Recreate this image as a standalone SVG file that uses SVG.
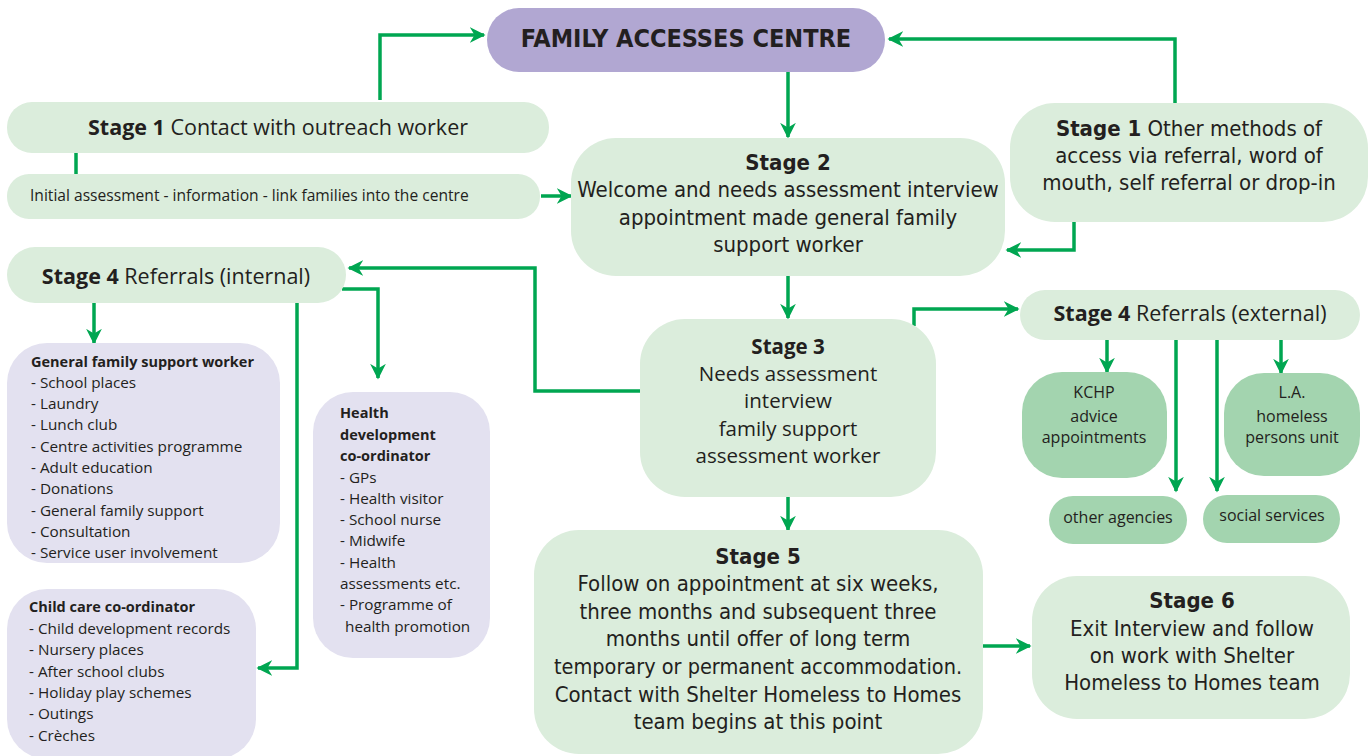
<svg xmlns="http://www.w3.org/2000/svg" width="1372" height="756" viewBox="0 0 1372 756">
<defs>
<style>
.lg{fill:#dbeddc}
.dg{fill:#a3d4af}
.pu{fill:#b1a7d2}
.lv{fill:#e3e1f0}
text{font-family:"Open Sans","Liberation Sans",Arial,sans-serif;fill:#231f20}
.c{text-anchor:middle}
.b{font-weight:bold}
.n{font-family:"Liberation Sans Narrow","DejaVu Sans Condensed","Liberation Sans",sans-serif}
.ln{fill:none;stroke:#00a651;stroke-width:3.5}
.s14{font-size:15.3px}
.t14{font-size:14.5px;font-weight:bold}
.s15{font-size:16px}
.s20{font-size:21.5px}
.s19{font-size:20.5px}
</style>
<marker id="ah" viewBox="0 0 10 10" refX="9" refY="5" markerWidth="4.5" markerHeight="4.5" orient="auto" markerUnits="strokeWidth">
<path d="M0,0 L10,5 L0,10 L3,5 Z" fill="#00a651"/>
</marker>
</defs>
<rect width="1372" height="756" fill="#ffffff"/>

<g id="connectors">
<path class="ln" d="M380,100 V35 H484" marker-end="url(#ah)"/>
<path class="ln" d="M76,153 V174"/>
<path class="ln" d="M541,196 H571" marker-end="url(#ah)"/>
<path class="ln" d="M788,72 V137" marker-end="url(#ah)"/>
<path class="ln" d="M1175,103 V39 H889" marker-end="url(#ah)"/>
<path class="ln" d="M1074,222 V250 H1007" marker-end="url(#ah)"/>
<path class="ln" d="M788,276 V318" marker-end="url(#ah)"/>
<path class="ln" d="M640,391 H535 V268 H349" marker-end="url(#ah)"/>
<path class="ln" d="M342,289 H378 V378" marker-end="url(#ah)"/>
<path class="ln" d="M94,303 V343" marker-end="url(#ah)"/>
<path class="ln" d="M297,303 V668 H258" marker-end="url(#ah)"/>
<path class="ln" d="M914,326 V309 H1018" marker-end="url(#ah)"/>
<path class="ln" d="M788,497 V530" marker-end="url(#ah)"/>
<path class="ln" d="M1107,340 V372" marker-end="url(#ah)"/>
<path class="ln" d="M1176,340 V491" marker-end="url(#ah)"/>
<path class="ln" d="M1217,340 V491" marker-end="url(#ah)"/>
<path class="ln" d="M1281,340 V373" marker-end="url(#ah)"/>
<path class="ln" d="M983,646 H1030" marker-end="url(#ah)"/>
</g>

<g id="fac">
<rect class="pu" x="487" y="8" width="398" height="64" rx="32"/>
<text class="c b n" x="686" y="47" font-size="25">FAMILY ACCESSES CENTRE</text>
</g>

<g id="stage1-outreach">
<rect class="lg" x="7" y="102" width="542" height="51" rx="25"/>
<text class="c s20" x="278" y="135"><tspan class="b">Stage 1</tspan> Contact with outreach worker</text>
</g>

<g id="initial-assessment">
<rect class="lg" x="7" y="174" width="533" height="45" rx="22"/>
<text x="30" y="201" font-size="15.6">Initial assessment - information - link families into the centre</text>
</g>

<g id="stage2">
<rect class="lg" x="571" y="138" width="434" height="138" rx="45"/>
<text class="c n" x="788" y="170" font-size="22"><tspan class="b">Stage 2</tspan></text>
<text class="c n" x="788" y="197" font-size="22">Welcome and needs assessment interview</text>
<text class="c n" x="788" y="225" font-size="22">appointment made general family</text>
<text class="c n" x="788" y="252" font-size="22">support worker</text>
</g>

<g id="stage1-other">
<rect class="lg" x="1010" y="103" width="358" height="119" rx="45"/>
<text class="c n" x="1189" y="136" font-size="22"><tspan class="b">Stage 1</tspan> Other methods of</text>
<text class="c n" x="1189" y="163" font-size="22">access via referral, word of</text>
<text class="c n" x="1189" y="190" font-size="22">mouth, self referral or drop-in</text>
</g>

<g id="stage4-internal">
<rect class="lg" x="7" y="247" width="339" height="56" rx="28"/>
<text class="c s20" x="176" y="284"><tspan class="b">Stage 4</tspan> Referrals (internal)</text>
</g>

<g id="general-family">
<rect class="lv" x="7" y="343" width="273" height="220" rx="40"/>
<text class="t14" x="31" y="367">General family support worker</text>
<text class="s14" x="31" y="388">- School places</text>
<text class="s14" x="31" y="409">- Laundry</text>
<text class="s14" x="31" y="430">- Lunch club</text>
<text class="s14" x="31" y="452">- Centre activities programme</text>
<text class="s14" x="31" y="473">- Adult education</text>
<text class="s14" x="31" y="494">- Donations</text>
<text class="s14" x="31" y="516">- General family support</text>
<text class="s14" x="31" y="537">- Consultation</text>
<text class="s14" x="31" y="558">- Service user involvement</text>
</g>

<g id="health">
<rect class="lv" x="313" y="392" width="177" height="266" rx="40"/>
<text class="t14" x="340" y="418">Health</text>
<text class="t14" x="340" y="440">development</text>
<text class="t14" x="340" y="461">co-ordinator</text>
<text class="s14" x="340" y="483">- GPs</text>
<text class="s14" x="340" y="504">- Health visitor</text>
<text class="s14" x="340" y="525">- School nurse</text>
<text class="s14" x="340" y="546">- Midwife</text>
<text class="s14" x="340" y="568">- Health</text>
<text class="s14" x="340" y="589">assessments etc.</text>
<text class="s14" x="340" y="610">- Programme of</text>
<text class="s14" x="345" y="632">health promotion</text>
</g>

<g id="childcare">
<rect class="lv" x="7" y="589" width="249" height="170" rx="40"/>
<text class="t14" x="29" y="612">Child care co-ordinator</text>
<text class="s14" x="29" y="634">- Child development records</text>
<text class="s14" x="29" y="655">- Nursery places</text>
<text class="s14" x="29" y="677">- After school clubs</text>
<text class="s14" x="29" y="698">- Holiday play schemes</text>
<text class="s14" x="29" y="719">- Outings</text>
<text class="s14" x="29" y="741">- Crèches</text>
</g>

<g id="stage3">
<rect class="lg" x="640" y="319" width="296" height="178" rx="45"/>
<text class="c s19 b" x="788" y="354">Stage 3</text>
<text class="c s19" x="788" y="381">Needs assessment</text>
<text class="c s19" x="788" y="408">interview</text>
<text class="c s19" x="788" y="436">family support</text>
<text class="c s19" x="788" y="463">assessment worker</text>
</g>

<g id="stage4-external">
<rect class="lg" x="1020" y="290" width="340" height="50" rx="25"/>
<text class="c s20" x="1190" y="321"><tspan class="b">Stage 4</tspan> Referrals (external)</text>
</g>

<g id="kchp">
<rect class="dg" x="1022" y="372" width="145" height="106" rx="40"/>
<text class="c s15" x="1094" y="398">KCHP</text>
<text class="c s15" x="1094" y="422">advice</text>
<text class="c s15" x="1094" y="443">appointments</text>
</g>

<g id="la">
<rect class="dg" x="1224" y="373" width="136" height="103" rx="40"/>
<text class="c s15" x="1292" y="398">L.A.</text>
<text class="c s15" x="1292" y="422">homeless</text>
<text class="c s15" x="1292" y="443">persons unit</text>
</g>

<g id="other-agencies">
<rect class="dg" x="1049" y="496" width="138" height="48" rx="24"/>
<text class="c s15" x="1118" y="523">other agencies</text>
</g>

<g id="social-services">
<rect class="dg" x="1203" y="495" width="137" height="48" rx="24"/>
<text class="c s15" x="1272" y="521">social services</text>
</g>

<g id="stage5">
<rect class="lg" x="534" y="530" width="449" height="224" rx="45"/>
<text class="c n b" x="758" y="564" font-size="22">Stage 5</text>
<text class="c n" x="758" y="591" font-size="22">Follow on appointment at six weeks,</text>
<text class="c n" x="758" y="619" font-size="22">three months and subsequent three</text>
<text class="c n" x="758" y="646" font-size="22">months until offer of long term</text>
<text class="c n" x="758" y="674" font-size="21.5">temporary or permanent accommodation.</text>
<text class="c n" x="758" y="702" font-size="22">Contact with Shelter Homeless to Homes</text>
<text class="c n" x="758" y="729" font-size="22">team begins at this point</text>
</g>

<g id="stage6">
<rect class="lg" x="1032" y="576" width="318" height="143" rx="45"/>
<text class="c n b" x="1192" y="608" font-size="22">Stage 6</text>
<text class="c n" x="1192" y="636" font-size="22">Exit Interview and follow</text>
<text class="c n" x="1192" y="663" font-size="22">on work with Shelter</text>
<text class="c n" x="1192" y="690" font-size="22">Homeless to Homes team</text>
</g>
</svg>
